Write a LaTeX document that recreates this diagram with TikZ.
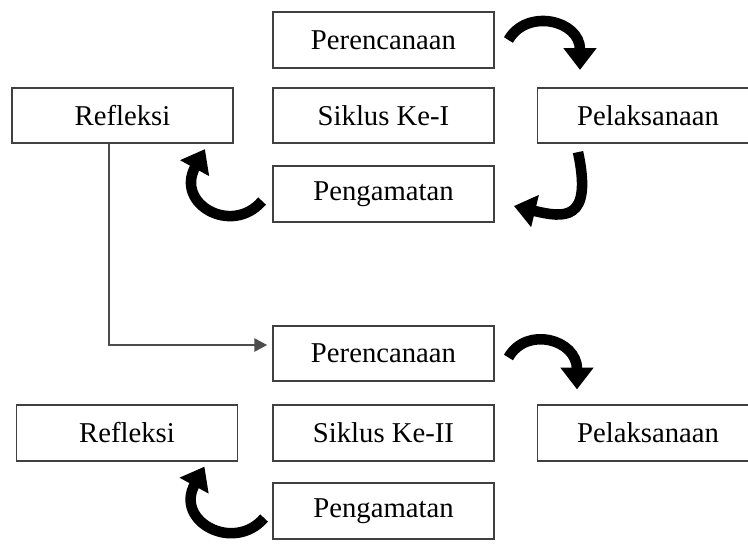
\documentclass[tikz,border=0pt]{standalone}
\usepackage{fontspec}
\setmainfont{Liberation Serif}
\usetikzlibrary{arrows.meta,calc}
\tikzset{font=\fontsize{24.5}{28}\selectfont}
\tikzstyle{kotak}=[draw=black!75,line width=1.6pt,minimum width=6.63cm,minimum height=1.66cm,inner sep=0pt]
\tikzstyle{lengkung}=[line width=9pt,-{Triangle[length=0.65cm,width=0.95cm]}]
\tikzstyle{panah}=[draw=black!70,line width=1.1pt,-{Triangle[length=0.38cm,width=0.4cm]}]
\begin{document}
\begin{tikzpicture}
  [x=0.03cm,y=-0.03cm]
\useasboundingbox (0,0) rectangle (748,554);
% siklus pertama
\node[kotak] (per1) at (383.5,40) {Perencanaan};
\node[kotak] (ref1) at (122.5,115.5) {Refleksi};
\node[kotak] (sik1) at (383.5,115.5) {Siklus Ke-I};
\node[kotak] (pel1) at (648,115.5) {Pelaksanaan};
\node[kotak] (pen1) at (383.5,194) {Pengamatan};
% siklus kedua
\node[kotak] (per2) at (383.5,353.5) {Perencanaan};
\node[kotak] (ref2) at (127,433) {Refleksi};
\node[kotak] (sik2) at (383.5,433) {Siklus Ke-II};
\node[kotak] (pel2) at (648,433) {Pelaksanaan};
\node[kotak] (pen2) at (383.5,511) {Pengamatan};
\coordinate (turun) at ($(ref1.south)+(-13.5,0)$);
\draw[panah] (turun) |- ($(per2.west)+(-5,-8.5)$);
\draw[lengkung] ($(per1.east)+(13.5,0)$) .. controls +(18,-32) and +(0,-50) .. ($(pel1.north)+(-68,-17)$);
\draw[lengkung] ($(pel1.south)+(-70,8)$) .. controls +(15,70) and +(50,12) .. ($(pen1.east)+(19,12)$);
\draw[lengkung] ($(pen1.west)+(-10,7)$) .. controls +(-30,35) and +(-30,55) .. ($(ref1.south east)+(-29,5)$);
\draw[lengkung] ($(per2.east)+(13.5,4)$) .. controls +(18,-32) and +(0,-50) .. ($(pel2.north)+(-71,-15)$);
\draw[lengkung] ($(pen2.west)+(-8,7)$) .. controls +(-30,35) and +(-30,55) .. ($(ref2.south east)+(-34,5)$);
\end{tikzpicture}
\end{document}
